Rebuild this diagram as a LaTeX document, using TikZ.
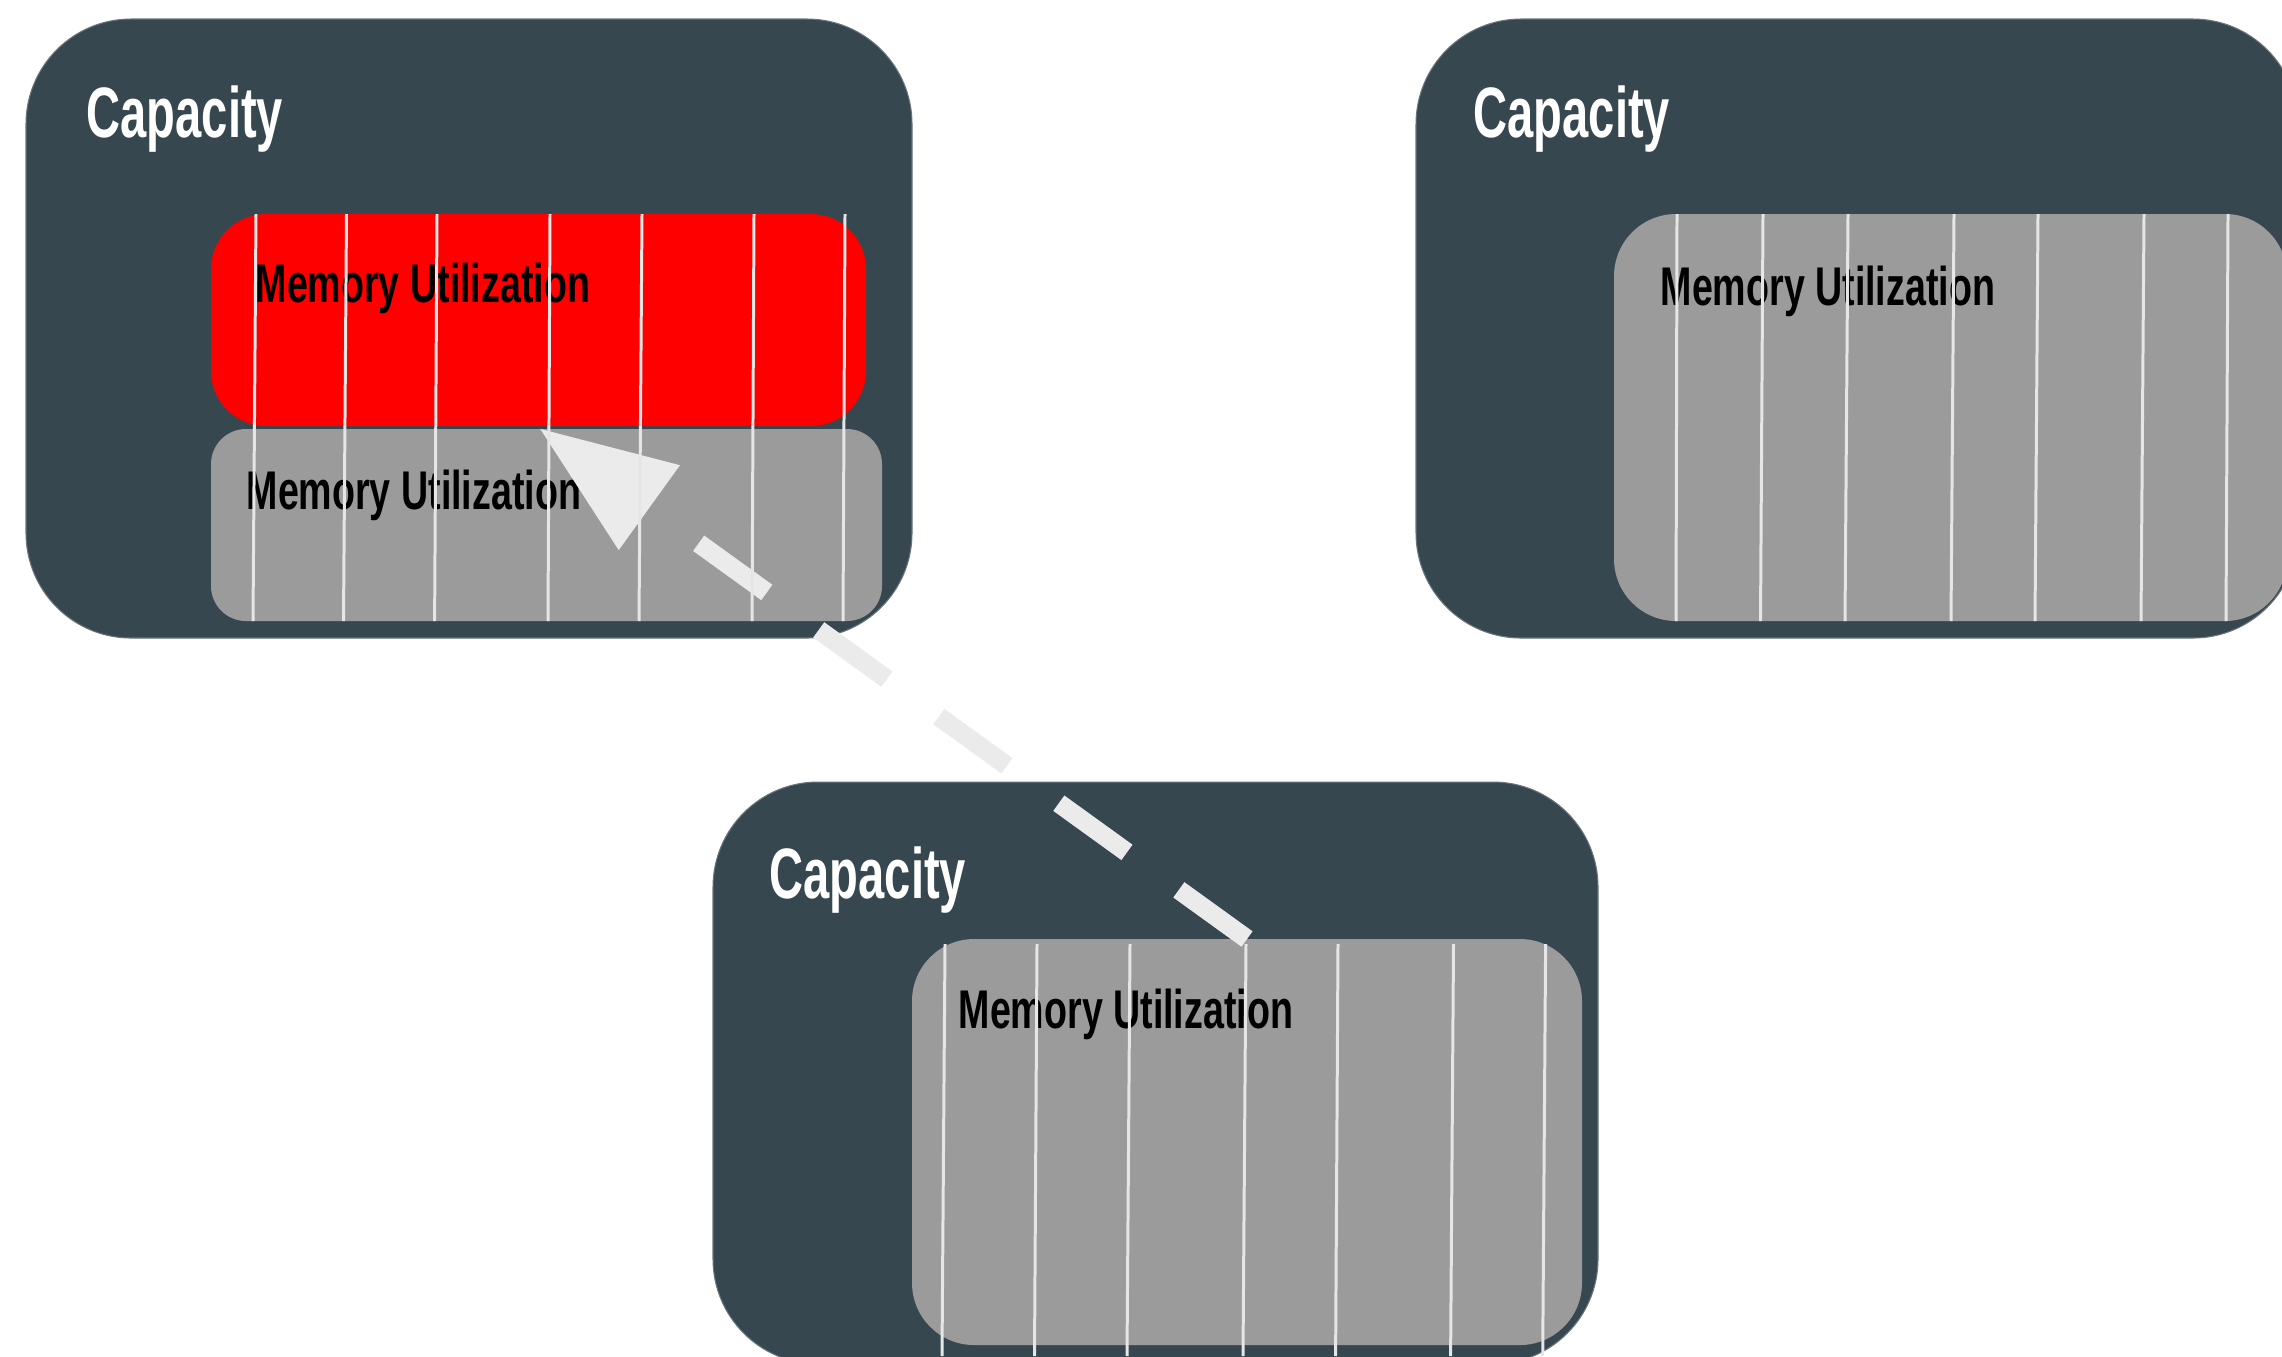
\documentclass[tikz,border=0pt]{standalone}
\usepackage{fontspec}
\usetikzlibrary{arrows.meta,fit}
\newfontfamily\capfont{Liberation Sans}[FakeStretch=0.66]
\newfontfamily\memfont{Liberation Sans}[FakeStretch=0.69]
\definecolor{slate}{HTML}{37474F}
\definecolor{usage}{HTML}{9B9B9B}
\definecolor{hot}{HTML}{FF0000}
\definecolor{pale}{HTML}{EBEBEB}
\definecolor{stripecol}{HTML}{E6E6E6}
\begin{document}
\begin{tikzpicture}[x=0.01cm, y=-0.01cm,
  capbox/.style={fill=slate, draw=slate!75!white, line width=0.3pt,
    rounded corners=1.05cm, inner sep=0pt, outer sep=0pt},
  usebox/.style={fill=usage, rounded corners=#1, inner sep=0pt, outer sep=0pt},
  usebox/.default=0.62cm,
  hotbox/.style={fill=hot, rounded corners=0.55cm, inner sep=0pt, outer sep=0pt},
  captext/.style={font=\capfont\bfseries\fontsize{20.3}{24}\selectfont,
    text=white, anchor=base west, inner sep=0pt},
  memtext/.style={font=\memfont\bfseries\fontsize{15.5}{18}\selectfont,
    text=black, anchor=base west, inner sep=0pt},
  stripeline/.style={draw=stripecol, line width=0.85pt},
  moveflow/.style={draw=pale, line width=5.4pt, dash pattern=on 23.9pt off 18.2pt,
    -{Triangle[length=38.7pt, width=28.2pt, fill=pale]}}
]
\useasboundingbox (0,0) rectangle (2282,1356);
\clip (0,0) rectangle (2282,1356);

% outer capacity containers
\node[capbox, fit={(26,19) (912,638)}] (capA) {};
\node[capbox, fit={(1416,19) (2298,638)}] (capB) {};
\node[capbox, fit={(713,782) (1598,1364)}] (capC) {};

% memory blocks
\node[hotbox, fit={(211,214) (866,426)}] (hotA) {};
\node[usebox=0.35cm, fit={(211,429) (882,621)}] (useA) {};
\node[usebox, fit={(1614,214) (2287,621)}] (useB) {};
\node[usebox, fit={(912,939) (1582,1345)}] (useC) {};

% labels
\node[captext] (capAlabel) at (86,137) {Capacity};
\node[captext] (capBlabel) at (1473,137) {Capacity};
\node[captext] (capClabel) at (769,898) {Capacity};
\node[memtext] (hotAlabel) at (255,302) {Memory Utilization};
\node[memtext] (useAlabel) at (246,509) {Memory Utilization};
\node[memtext] (useBlabel) at (1660,305) {Memory Utilization};
\node[memtext] (useClabel) at (958,1028) {Memory Utilization};

% migration arrow
\coordinate (target) at (539,428);
\draw[moveflow] (useC.north) -- (target);

% page stripes
\foreach \t/\b in {256/253, 346.5/343.5, 437/434.6, 550/548, 642/639, 754/752, 845/843}
  \draw[stripeline] (\t,214) -- (\b,621);
\foreach \t/\b in {1677/1676, 1763/1760.5, 1848/1845, 1954/1951, 2038/2035, 2144/2141, 2228/2226}
  \draw[stripeline] (\t,214) -- (\b,621);
\foreach \t/\b in {945/942, 1037/1034.5, 1130/1127, 1246/1243, 1338/1335.6, 1453.5/1450.6, 1545.6/1542.7}
  \draw[stripeline] (\t,944) -- (\b,1356);
\end{tikzpicture}
\end{document}
